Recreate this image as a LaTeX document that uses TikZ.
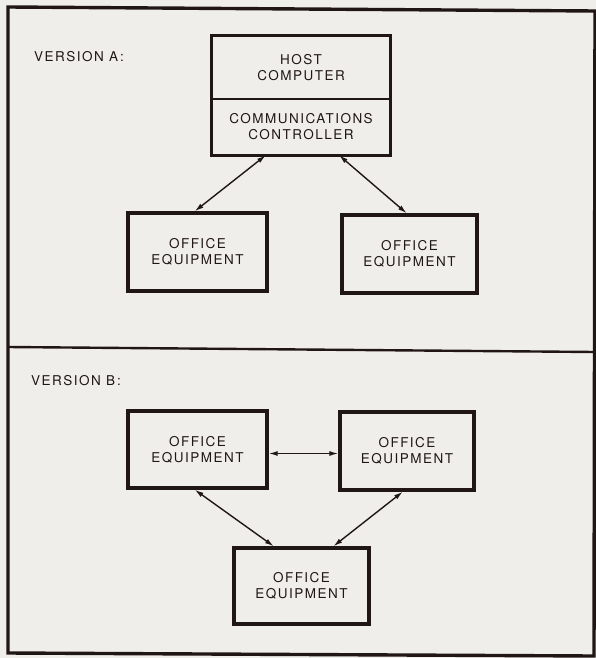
\documentclass[tikz,border=0pt]{standalone}
\usepackage{fontspec}
\setmainfont{TeX Gyre Heros}[LetterSpace=11]
\usetikzlibrary{arrows.meta,calc}
\definecolor{paper}{RGB}{240,238,235}
\definecolor{ink}{RGB}{32,22,22}
\begin{document}
\begin{tikzpicture}[x=1pt,y=-1pt,
  txt/.style={text=ink, font=\fontsize{13.5}{16}\selectfont, align=center, inner sep=0pt},
  box/.style={txt, draw=ink, line width=3.3pt},
  part/.style={txt},
  link/.style={draw=ink, line width=1.4pt, {Latex[length=9pt,width=5pt]}-{Latex[length=9pt,width=5pt]}},
  heading/.style={txt, anchor=west}]
  % page and frame
  \fill[paper] (0,0) rectangle (596,658);
  \useasboundingbox (0,0) rectangle (596,658);
  \draw[ink, line width=3.4pt] (8,7) -- (595,11) -- (594,656) -- (8,653) -- cycle;
  \draw[ink, line width=2.4pt] (8,347) -- (595,352);

  % ---------- version A ----------
  \node[heading] (verA) at (34,57) {VERSION A\hspace{2pt}:};
  \node[part, minimum width=178pt, minimum height=63pt] (host) at (301,67.5) {HOST\\COMPUTER};
  \node[part, minimum width=178pt, minimum height=56pt] (ctrl) at (301,127) {COMMUNICATIONS\\CONTROLLER};
  \draw[ink, line width=3.3pt] (host.north west) rectangle (ctrl.south east);
  \draw[ink, line width=2pt] (host.south west) -- (host.south east);

  \node[box, minimum width=139pt, minimum height=78pt] (a1) at (197.5,252) {OFFICE\\EQUIPMENT};
  \node[box, minimum width=135pt, minimum height=78pt] (a2) at (409.5,254) {OFFICE\\EQUIPMENT};

  \draw[link] ($(ctrl.south west)!0.303!(ctrl.south east)$) -- ($(a1.north west)!0.48!(a1.north east)$);
  \draw[link] ($(ctrl.south west)!0.713!(ctrl.south east)$) -- ($(a2.north west)!0.48!(a2.north east)$);

  % ---------- version B ----------
  \node[heading] (verB) at (31,381) {VERSION B\hspace{2pt}:};
  \node[box, minimum width=139pt, minimum height=77pt] (b1) at (197.5,449.5) {OFFICE\\EQUIPMENT};
  \node[box, minimum width=134pt, minimum height=78pt] (b2) at (407,451) {OFFICE\\EQUIPMENT};
  \node[box, minimum width=135pt, minimum height=76pt] (b3) at (301.5,586) {OFFICE\\EQUIPMENT};

  \draw[link] ([yshift=-4pt]b1.east) -- ([yshift=-4pt]b1.east -| b2.west);
  \draw[link] ($(b1.south west)!0.48!(b1.south east)$) -- ($(b3.north west)!0.30!(b3.north east)$);
  \draw[link] ($(b2.south west)!0.47!(b2.south east)$) -- ($(b3.north west)!0.73!(b3.north east)$);
\end{tikzpicture}
\end{document}
